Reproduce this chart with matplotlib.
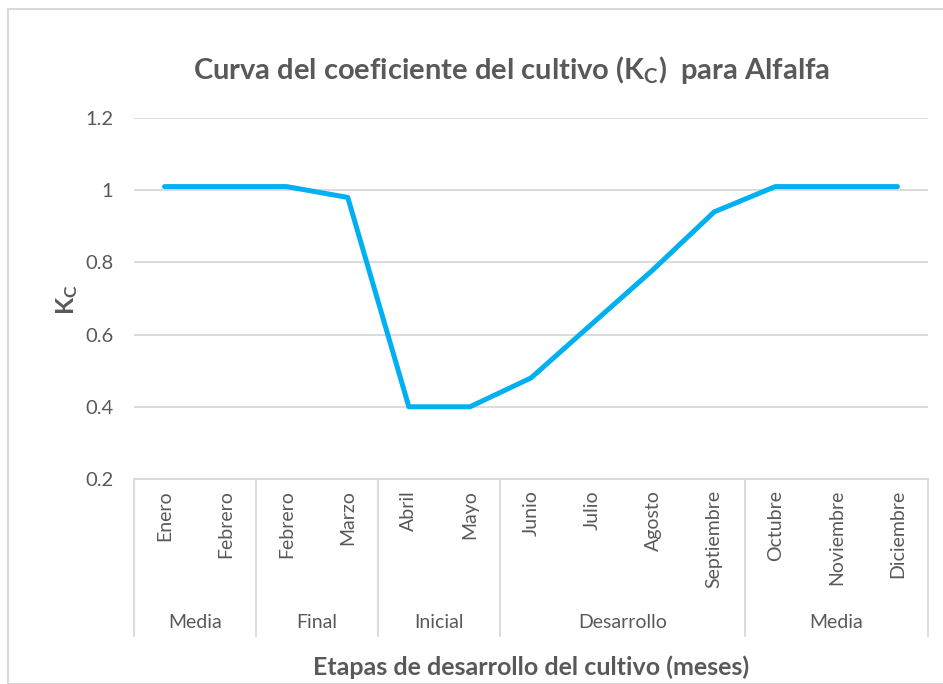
import matplotlib
matplotlib.use("Agg")
import matplotlib.pyplot as plt
from matplotlib.ticker import FuncFormatter, FixedLocator
from matplotlib.patches import Rectangle
import matplotlib.transforms as mtransforms

# ---- data ----
months = ["Enero", "Febrero", "Febrero", "Marzo", "Abril", "Mayo", "Junio",
          "Julio", "Agosto", "Septiembre", "Octubre", "Noviembre", "Diciembre"]
stages = ["Media", "Final", "Inicial", "Desarrollo", "Media"]
stage_sizes = [2, 2, 2, 4, 3]
kc_values = [1.01, 1.01, 1.01, 0.98, 0.40, 0.40, 0.48, 0.63, 0.78, 0.94, 1.01, 1.01, 1.01]
y_ticks = [0.2, 0.4, 0.6, 0.8, 1.0, 1.2]

plt.rcParams['font.family'] = ['Lato', 'DejaVu Sans']
plt.rcParams['mathtext.fontset'] = 'custom'
plt.rcParams['mathtext.rm'] = 'Lato:bold'
plt.rcParams['mathtext.it'] = 'Lato:bold'
plt.rcParams['mathtext.bf'] = 'Lato:bold'

TXT = '#595959'
GRID = '#d9d9d9'
LINE = '#00B0F0'

W, H = 943, 684
fig = plt.figure(figsize=(W / 100, H / 100), dpi=100)

# outer chart border
fig.patches.append(Rectangle((8 / W, 0), 1.0, 1 - 9 / H, transform=fig.transFigure,
                             fill=False, edgecolor=GRID, linewidth=1.5, clip_on=False))

left, right, top, bottom = 134, 928, 118, 479
ax = fig.add_axes([left / W, 1 - bottom / H, (right - left) / W, (bottom - top) / H])

x = list(range(len(months)))
ax.plot(x, kc_values, color=LINE, linewidth=3.6, solid_capstyle='round',
        solid_joinstyle='round', zorder=3)

ax.set_xlim(-0.5, len(months) - 0.5)
ax.set_ylim(0.2, 1.2)
ax.yaxis.set_major_locator(FixedLocator(y_ticks))
ax.yaxis.set_major_formatter(FuncFormatter(lambda v, p: f"{v:g}"))
ax.grid(axis='y', color=GRID, linewidth=1.3)
ax.set_axisbelow(True)
for s in ['top', 'right', 'left']:
    ax.spines[s].set_visible(False)
ax.spines['bottom'].set_color(GRID)
ax.spines['bottom'].set_linewidth(1.3)
ax.tick_params(axis='y', length=0, labelsize=14.5, labelcolor=TXT, pad=15)
ax.set_xticks([])

# month labels
trans = mtransforms.blended_transform_factory(ax.transData, ax.transAxes)
ph = bottom - top
for i, m in enumerate(months):
    ax.text(i, -11 / ph, m, rotation=90, ha='center', va='top',
            fontsize=14, color=TXT, transform=trans)

# stage separators and labels
bounds = [-0.5]
for s in stage_sizes:
    bounds.append(bounds[-1] + s)
sep_bottom = -(636 - bottom) / ph
for b in bounds:
    ax.plot([b, b], [0, sep_bottom], color=GRID, linewidth=1.3,
            transform=trans, clip_on=False)
for i, st in enumerate(stages):
    cx = (bounds[i] + bounds[i + 1]) / 2
    ax.text(cx, -(622 - bottom) / ph, st, ha='center', va='center',
            fontsize=14, color=TXT, transform=trans)

# axis titles
ax.text(0.5, -(667 - bottom) / ph, "Etapas de desarrollo del cultivo (meses)",
        ha='center', va='center', fontsize=18, fontweight='bold', color=TXT,
        transform=ax.transAxes)
fig.text(67 / W, 1 - 300 / H, r"K$_C$", rotation=90, ha='center', va='center',
         fontsize=18, fontweight='bold', color=TXT)

fig.text(512 / W, 1 - 70 / H, r"Curva del coeficiente del cultivo (K$_C$)  para Alfalfa",
         ha='center', va='center', fontsize=21, fontweight='bold', color=TXT)

fig.savefig("out.png", dpi=100, facecolor='white')
